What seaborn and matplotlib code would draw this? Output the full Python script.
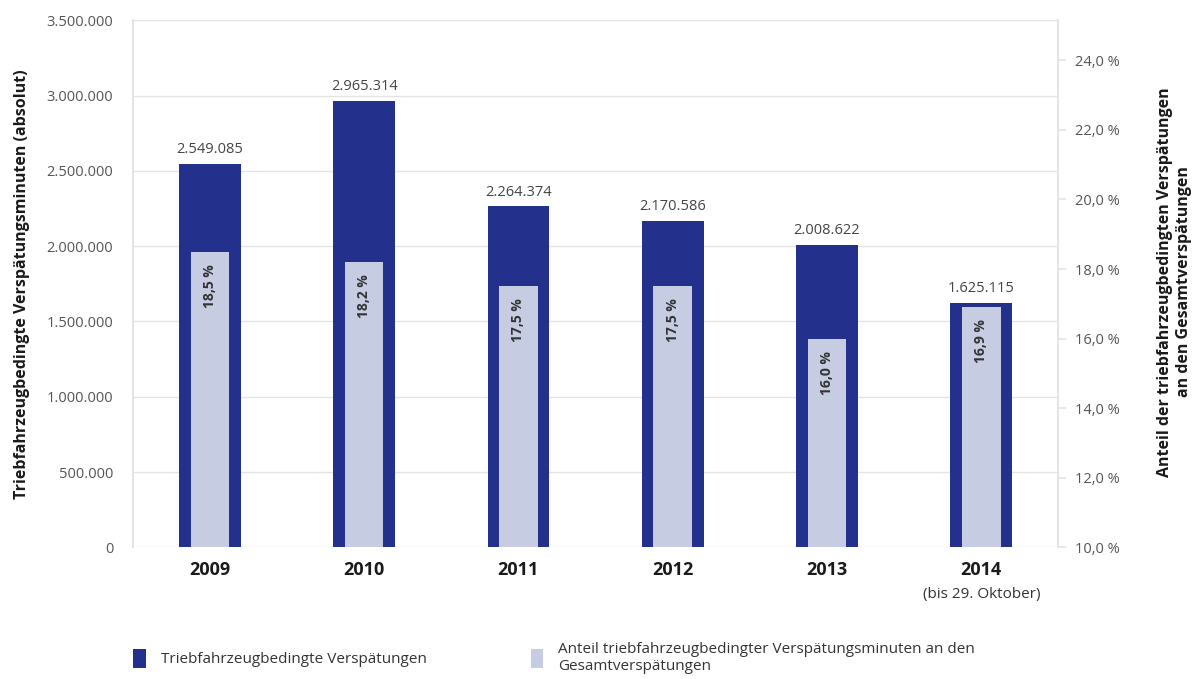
import matplotlib
matplotlib.use("Agg")
import matplotlib.pyplot as plt
import matplotlib.ticker as mticker
from matplotlib.patches import Patch
from matplotlib.transforms import blended_transform_factory
import seaborn as sns
import pandas as pd

# Data
years = ["2009", "2010", "2011", "2012", "2013", "2014"]
delay_minutes = [2549085, 2965314, 2264374, 2170586, 2008622, 1625115]
share_pct = [18.5, 18.2, 17.5, 17.5, 16.0, 16.9]
left_ticks = [0, 500000, 1000000, 1500000, 2000000, 2500000, 3000000, 3500000]
right_ticks = [10, 12, 14, 16, 18, 20, 22, 24]

DARK = "#23318c"
LIGHT = "#c6cde2"
GRID = "#e4e4e4"
TICK_COL = "#555555"

sns.set_theme(style="white")
plt.rcParams["font.family"] = ["Open Sans", "DejaVu Sans"]

df = pd.DataFrame({"year": years, "minutes": delay_minutes, "share": share_pct})


def de_num(v):
    return f"{v:,}".replace(",", ".")


fig = plt.figure(figsize=(11.96, 6.79), dpi=100)
ax = fig.add_axes([0.111, 0.194, 0.774, 0.776])

sns.barplot(data=df, x="year", y="minutes", color=DARK, width=0.40,
            saturation=1, linewidth=0, ax=ax, zorder=2)
ax.set_ylim(0, 3500000)
ax.set_xlim(-0.5, 5.5)
ax.set_yticks(left_ticks)
ax.yaxis.set_major_formatter(mticker.FuncFormatter(lambda v, p: de_num(int(v))))
ax.grid(axis="y", color=GRID, linewidth=1, zorder=0)
ax.set_axisbelow(True)

# value labels above dark bars
for i, v in enumerate(delay_minutes):
    ax.text(i, v + 45000, de_num(v), ha="center", va="bottom",
            fontsize=10.5, color="#444444")

# share bars on the right axis
ax2 = ax.twinx()
sns.barplot(data=df, x="year", y="share", color=LIGHT, width=0.25,
            saturation=1, linewidth=0, ax=ax2, zorder=3)
ax2.set_ylim(10, 25.15)
ax2.set_xlim(-0.5, 5.5)
ax2.set_yticks(right_ticks)
ax2.yaxis.set_major_formatter(
    mticker.FuncFormatter(lambda v, p: f"{v:.1f}".replace(".", ",") + " %"))

for i, s in enumerate(share_pct):
    ax2.text(i, s - 0.35, f"{s:.1f}".replace(".", ",") + " %", rotation=90,
             ha="center", va="top", fontsize=10, fontweight="bold",
             color="#333333")

# spines and ticks
for a in (ax, ax2):
    for side in ("top", "bottom"):
        a.spines[side].set_visible(False)
    a.spines["left"].set_color(GRID)
    a.spines["right"].set_color(GRID)
    a.set_xlabel("")
ax.tick_params(axis="y", colors=TICK_COL, labelsize=10.5, length=0, pad=14)
ax2.tick_params(axis="y", colors=TICK_COL, labelsize=10.5, length=6,
                color=GRID, pad=6)
ax2.set_ylabel("")

ax.set_xticks(range(len(years)))
ax.set_xticklabels(years, fontsize=13, fontweight="bold", color="#1a1a1a")
ax.tick_params(axis="x", length=0, pad=10)
trans = blended_transform_factory(ax.transData, ax.transAxes)
ax.text(5, -0.075, "(bis 29. Oktober)", transform=trans, ha="center",
        va="top", fontsize=11, color="#333333")

ax.set_ylabel("Triebfahrzeugbedingte Verspätungsminuten (absolut)",
              fontsize=11.5, fontweight="bold", color="#1a1a1a", labelpad=12)
fig.text(0.982, 0.585, "Anteil der triebfahrzeugbedingten Verspätungen\nan den Gesamtverspätungen",
         rotation=90, ha="center", va="center", fontsize=11.5,
         fontweight="bold", color="#1a1a1a", linespacing=1.2)

# legend
handles = [Patch(facecolor=DARK, edgecolor="none"),
           Patch(facecolor=LIGHT, edgecolor="none")]
labels = ["Triebfahrzeugbedingte Verspätungen",
          "Anteil triebfahrzeugbedingter Verspätungsminuten an den\nGesamtverspätungen"]
fig.legend(handles, labels, ncol=2, loc="upper left",
           bbox_to_anchor=(0.1, 0.075), frameon=False, fontsize=11,
           handlelength=0.8, handleheight=1.5, handletextpad=1.0,
           columnspacing=6.8, labelcolor="#333333")

fig.savefig("out.png", dpi=100)
